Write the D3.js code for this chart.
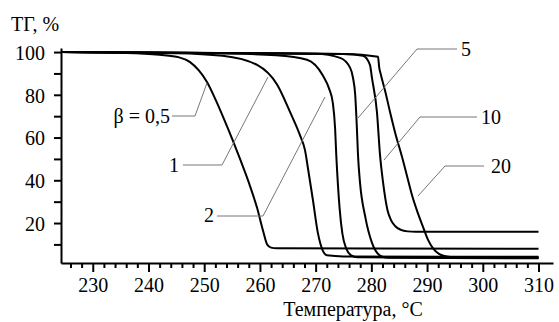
<!DOCTYPE html>
<html lang="ru">
<head>
<meta charset="UTF-8">
<title>ТГ</title>
<script src="https://cdn.jsdelivr.net/npm/d3@7/dist/d3.min.js"></script>
<style>
  body { margin: 0; background: #fff; }
  svg text { font-family: "Liberation Serif", "Times New Roman", Times, "DejaVu Serif", serif !important; font-size: 20px !important; fill: #000; }
</style>
</head>
<body>
<script>
var FONT = "'Liberation Serif', 'Times New Roman', Times, 'DejaVu Serif', serif";

// heating rates (K/min) used as curve labels
var rates = ["0,5", "1", "2", "5", "10", "20"];

// temperature (°C) / mass (%), one pair per curve
var tA = [224.3, 236, 242, 245.5, 247.4, 249, 250.5, 252, 253.5, 255, 256.5, 258, 259.5, 260.6, 261.3, 262, 263, 310];
var gA = [100, 99.6, 98.7, 97.5, 95.4, 91.5, 86, 78, 69, 59.5, 49.5, 39, 27, 16, 10, 8.5, 8.2, 8.0];
var tB = [224.3, 245, 253.3, 259.5, 263.1, 265.4, 267.2, 268.1, 268.6, 269.5, 270.4, 271.3, 272, 275, 310];
var gB = [100, 99.5, 98.3, 94, 84.7, 72, 61, 54, 46, 31, 15.4, 7, 4.9, 4.4, 4.2];
var tC = [224.3, 250, 262.9, 268.45, 271.3, 272.4, 273.1, 273.5, 273.7, 274.0, 274.3, 274.8, 275.5, 276.3, 277.5, 310];
var gC = [100, 99.6, 98.5, 96.4, 89, 83, 76, 64, 52, 38, 27, 15, 8, 5, 4, 3.8];
var tD = [224.3, 255, 270, 274.4, 276.2, 276.7, 277.1, 277.4, 277.6, 277.96, 278.9, 280.1, 281.55, 283, 310];
var gD = [100, 99.5, 99.2, 97.3, 92.6, 88, 80, 64.6, 52, 39, 23, 10.8, 4.8, 3.7, 3.5];
var tE = [224.3, 260, 275, 278.5, 279.75, 280.1, 281.0, 281.55, 282.1, 282.9, 283.5, 284.3, 285.3, 286.5, 288, 310];
var gE = [100, 99.4, 99.1, 98.3, 94, 88, 72, 52, 39, 26, 21.5, 18.5, 16.8, 16.1, 15.9, 15.9];
var tF = [224.3, 260, 275, 281.2, 281.4, 281.7, 282.45, 283.35, 284.4, 285.5, 286.4, 287.3, 288.3, 289.3, 290.2, 291.1, 292.2, 293.3, 295, 310];
var gF = [100, 99.4, 99.1, 97.8, 93, 89.5, 82, 72, 61, 51, 42, 33, 25, 18, 12, 8, 5.5, 4.5, 4.0, 3.9];

var xMajor = [230, 240, 250, 260, 270, 280, 290, 300, 310];
var yMajor = [20, 40, 60, 80, 100];

var w = 559, h = 322;

var svg = d3.select("body").append("svg")
    .attr("width", w)
    .attr("height", h)
    .attr("font-family", FONT)
    .attr("font-size", 20);

var x = d3.scaleLinear().domain([224.3, 312.6]).range([61, 553]);
var y = d3.scaleLinear().domain([1.3, 101.9]).range([263, 48]);

var curves = [[tA, gA], [tB, gB], [tC, gC], [tD, gD], [tE, gE], [tF, gF]];

var line = d3.line()
    .x(function (d) { return x(d[0]); })
    .y(function (d) { return y(d[1]); })
    .curve(d3.curveMonotoneX);

svg.selectAll("path.tg")
    .data(curves)
    .enter()
    .append("path")
    .attr("class", "tg")
    .attr("d", function (c) { return line(d3.zip(c[0], c[1])); })
    .attr("fill", "none")
    .attr("stroke", "#000")
    .attr("stroke-width", 2)
    .attr("stroke-linejoin", "round");

// axes
var xMinor = d3.range(226, 311, 2).filter(function (d) { return d % 10 !== 0; });

svg.append("g")
    .attr("transform", "translate(0,263)")
    .call(d3.axisBottom(x).tickValues(xMinor).tickSize(5).tickFormat(""))
    .call(function (g) { g.select(".domain").remove(); });

var gx = svg.append("g")
    .attr("transform", "translate(0,263)")
    .call(d3.axisBottom(x).tickValues(xMajor).tickSize(9).tickSizeOuter(0).tickPadding(6));
gx.attr("font-family", FONT).attr("font-size", 20);
gx.selectAll("text").attr("dy", "0.71em");

var yTicks = d3.range(10, 101, 10);
var gy = svg.append("g")
    .attr("transform", "translate(61,0)")
    .call(d3.axisLeft(y).tickValues(yTicks).tickSize(7).tickSizeOuter(0).tickPadding(9)
        .tickFormat(function (d) { return yMajor.indexOf(d) >= 0 ? d : ""; }));
gy.attr("font-family", FONT).attr("font-size", 20);
gy.selectAll("text").attr("dy", "0.36em");

svg.selectAll(".domain, .tick line").attr("stroke", "#000").attr("stroke-width", 2);

// titles
svg.append("text").attr("x", 11).attr("y", 31).text("ТГ, %");
svg.append("text").attr("x", 353).attr("y", 316).attr("text-anchor", "middle").text("Температура, °С");

// leader lines with labels (pixel paths)
var leaders = [
    { label: "β = " + rates[0], tx: 170, ty: 123, anchor: "end", pts: [[172, 116], [195, 116], [207, 83]] },
    { label: rates[1], tx: 179, ty: 172, anchor: "end", pts: [[183, 165], [222, 165], [268, 77]] },
    { label: rates[2], tx: 214, ty: 222, anchor: "end", pts: [[217, 216], [263, 216], [325, 97]] },
    { label: rates[3], tx: 461, ty: 56, anchor: "start", pts: [[457, 49], [417, 49], [358, 118]] },
    { label: rates[4], tx: 481, ty: 124, anchor: "start", pts: [[477, 117], [420, 117], [384, 160]] },
    { label: rates[5], tx: 491, ty: 173, anchor: "start", pts: [[484, 166], [445, 166], [418, 196]] }
];

svg.selectAll("path.leader")
    .data(leaders)
    .enter()
    .append("path")
    .attr("class", "leader")
    .attr("d", function (d) { return d3.line()(d.pts); })
    .attr("fill", "none")
    .attr("stroke", "#777")
    .attr("stroke-width", 1);

svg.selectAll("text.lbl")
    .data(leaders)
    .enter()
    .append("text")
    .attr("class", "lbl")
    .attr("x", function (d) { return d.tx; })
    .attr("y", function (d) { return d.ty; })
    .attr("text-anchor", function (d) { return d.anchor; })
    .text(function (d) { return d.label; });
</script>
</body>
</html>
